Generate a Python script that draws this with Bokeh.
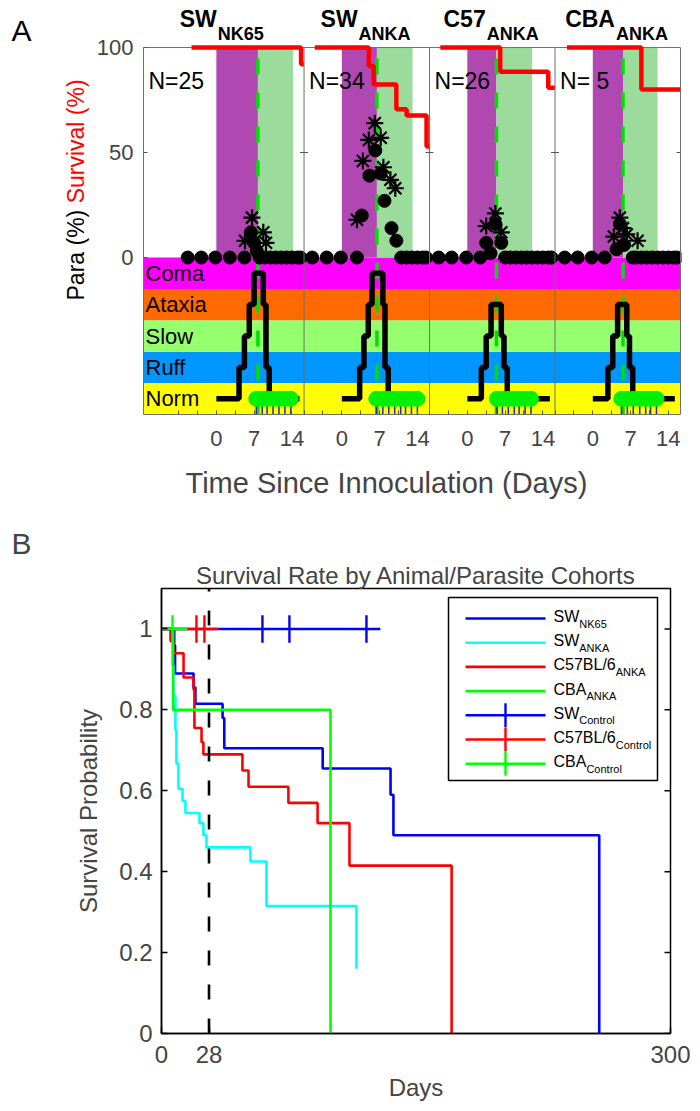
import numpy as np
from bokeh.plotting import figure
from bokeh.models import FixedTicker, Title
from bokeh.layouts import column, row
from bokeh.embed import file_html
from bokeh.resources import INLINE
from bokeh.core.properties import value

FONT = "Liberation Sans"

# ---------------- Panel A data ----------------
cohort_main = ["SW", "SW", "C57", "CBA"]
cohort_sub = ["NK65", "ANKA", "ANKA", "ANKA"]
cohort_n = ["N=25", "N=34", "N=26", "N= 5"]
score_names = ["Norm", "Ruff", "Slow", "Ataxia", "Coma"]
score_colors = ["#FFFF00", "#0096FF", "#96FF6E", "#FF6A00", "#FF00FF"]

onset_day = [7.7, 6.5, 5.4, 5.6]
window_end = [14.2, 13.1, 12.0, 12.0]

surv_t = [[-4.6, 15.7, 16.2],
          [-5.0, 5.0, 5.9, 10.1, 12.0, 15.7, 16.2],
          [-5.0, 6.1, 15.0, 16.2],
          [-4.8, 9.0, 16.2]]
surv_v = [[100, 92, 92],
          [100, 91.2, 82.4, 70.6, 67.6, 52.9, 52.9],
          [100, 88.5, 80.8, 80.8],
          [100, 80, 80]]

circ_t = [[-5.3, -2.8, -0.2, 2.5, 5.2, 6.4, 7.0, 7.5, 8.0, 9.0, 10.0, 11.0, 12.0, 13.0, 14.0, 15.0, 15.6],
          [-5.5, -2.8, -0.2, 2.8, 3.7, 5.1, 6.2, 7.2, 7.9, 9.2, 10.1, 11.0, 12.0, 13.0, 14.0, 15.0, 15.6],
          [-5.3, -2.9, -0.2, 2.4, 3.5, 4.3, 5.2, 6.3, 7.0, 8.0, 9.0, 10.0, 11.0, 12.0, 13.0, 14.0, 15.0, 15.6],
          [-5.2, -2.8, -0.2, 2.2, 4.4, 5.0, 5.8, 7.4, 8.0, 9.0, 10.0, 11.0, 12.0, 13.0, 14.0, 15.0, 15.6]]
circ_v = [[0, 0, 0, 0, 0, 12, 7, 3, 0, 0, 0, 0, 0, 0, 0, 0, 0],
          [0, 0, 0, 0, 20, 39, 51, 40, 27, 14, 8, 0, 0, 0, 0, 0, 0],
          [0, 0, 0, 0, 7, 2, 16, 7, 0, 0, 0, 0, 0, 0, 0, 0, 0, 0],
          [0, 0, 0, 0, 4, 16, 6, 0, 0, 0, 0, 0, 0, 0, 0, 0, 0]]
star_t = [[5.3, 6.6, 8.7, 9.2],
          [2.8, 3.9, 5.0, 6.1, 7.2, 7.7, 9.0, 9.9],
          [3.5, 5.2, 6.3],
          [3.9, 5.0, 5.6, 6.3, 8.3]]
star_v = [[8, 19, 12, 7],
          [18, 46, 56, 64, 57, 43, 37, 33],
          [15, 21, 12],
          [10, 19, 14, 11, 8]]

score_t = [[0, 4.2, 5.2, 6.1, 7.0, 8.7, 9.2, 9.8, 15.4],
           [0, 3.3, 4.1, 4.9, 5.6, 7.6, 8.0, 8.6, 15.4],
           [0, 2.6, 3.5, 4.4, 6.3, 6.8, 7.4, 15.3],
           [0, 2.8, 3.7, 4.6, 6.3, 6.8, 7.4, 15.2]]
score_v = [[0, 1, 2, 3, 4, 3, 1, 0, 0],
           [0, 1, 2, 3, 4, 3, 1, 0, 0],
           [0, 1, 2, 3, 2, 1, 0, 0],
           [0, 1, 2, 3, 2, 1, 0, 0]]

recov_t = [[7.4, 8.5, 9.4, 10.5, 11.6, 12.7, 13.8],
           [6.4, 7.6, 8.7, 9.8, 10.9, 11.8, 12.9, 14.0],
           [5.5, 6.5, 7.6, 8.7, 9.6, 10.7, 11.8],
           [5.3, 6.4, 7.5, 8.7, 9.8, 10.7, 11.8]]

day_major = [0, 7, 14]
day_major_labels = ["0", "7", "14"]
day_minor = [-7, -3.5, 3.5, 10.5]
para_ticks = [0, 50, 100]

# ---------------- Panel B data ----------------
km_colors = ["#0000FF", "#00FFFF", "#FF0000", "#00FF00"]
km_t = [[0, 7.5, 8.0, 18.9, 20.0, 36.0, 37.0, 95.0, 135.0, 136.7, 258.0],
        [0, 6.5, 7.0, 8.2, 8.8, 10.0, 12.4, 14.1, 22.4, 24.7, 26.5, 52.4, 61.9, 114.9],
        [0, 5.3, 7.0, 13.0, 18.9, 19.4, 23.6, 24.7, 47.7, 51.3, 74.8, 92.0, 110.8, 171.0],
        [0, 6.8, 99.6]]
km_s = [[1, 0.96, 0.89, 0.855, 0.815, 0.78, 0.705, 0.655, 0.59, 0.49, 0],
        [1, 0.91, 0.835, 0.75, 0.667, 0.605, 0.575, 0.545, 0.52, 0.49, 0.46, 0.425, 0.315, 0.16],
        [1, 0.97, 0.94, 0.88, 0.85, 0.755, 0.72, 0.69, 0.65, 0.61, 0.57, 0.52, 0.415, 0],
        [1, 0.8, 0]]
ctrl_colors = ["#0000FF", "#FF0000", "#00FF00"]
ctrl_end = [129.0, 33.6, 15.3]
ctrl_censor = [[59.5, 75.4, 120.8], [20.6, 25.3], [6.5]]
cutoff_day = 28
b_xticks = [0, 28, 300]
b_yticks = [0, 0.2, 0.4, 0.6, 0.8, 1]
b_ylabels = ["0", "0.2", "0.4", "0.6", "0.8", "1"]
legend_main = ["SW", "SW", "C57BL/6", "CBA", "SW", "C57BL/6", "CBA"]
legend_sub = ["NK65", "ANKA", "ANKA", "ANKA", "Control", "Control", "Control"]
legend_colors = ["#0000FF", "#00FFFF", "#FF0000", "#00FF00", "#0000FF", "#FF0000", "#00FF00"]
legend_censor = [False, False, False, False, True, True, True]

# ---------------- text width helper (Arial metrics) ----------------
_REG = {' ': 278, '(': 333, ')': 333, '%': 889, '/': 278, '=': 584,
        'A': 667, 'B': 667, 'C': 722, 'D': 722, 'K': 667, 'L': 556, 'N': 722, 'P': 667,
        'R': 722, 'S': 667, 'T': 611, 'W': 944,
        'a': 556, 'b': 556, 'c': 500, 'e': 556, 'h': 556, 'i': 222, 'l': 222, 'm': 833,
        'n': 556, 'o': 556, 'r': 333, 's': 500, 't': 278, 'u': 556, 'v': 500, 'y': 500}
_BOLD = {'A': 722, 'B': 722, 'C': 722, 'K': 722, 'N': 722, 'S': 667, 'W': 944, 'L': 611, '/': 278}


def tw(s, size, bold=False):
    tab = _BOLD if bold else _REG
    return sum(tab.get(c, _REG.get(c, 556)) for c in s) * size / 1000.0


def put_text(p, x, y, txt, size, color="black", bold=False, x_offset=0, angle=0, align="left"):
    p.text(x=[x], y=[y], text=[txt], x_offset=x_offset, angle=angle,
           text_font=value(FONT), text_font_size=f"{size}px",
           text_font_style="bold" if bold else "normal", text_color=color,
           text_align=align, text_baseline="middle")


# ================= Panel A =================
STRIP_W = 90
OFF = 23.25
X0, X1 = -13.5, 16.25 + 3 * OFF
FW_A = 537
PXD = FW_A / (X1 - X0)
X1R = X1 + 1.0 / PXD
BH = 14.95
Y0 = -5 * BH
PXY = 2.1
FB_A = 414           # page y of behaviour-area bottom
YTOP = Y0 + FB_A / PXY
FL_A = 143           # page x of panel left


def ax(px):
    return X0 + (px - FL_A) / PXD


def ay(py):
    return Y0 + (FB_A - py) / PXY


def lev(v):
    return Y0 + BH * (np.asarray(v, dtype=float) + 0.5)


pA = figure(frame_width=FW_A + 1, frame_height=FB_A, x_range=(X0, X1R), y_range=(Y0, YTOP),
            output_backend="svg", toolbar_location=None,
            min_border_left=FL_A - STRIP_W, min_border_right=700 - FL_A - FW_A - 1,
            min_border_top=0, min_border_bottom=100)
pA.grid.visible = False
pA.outline_line_color = None
pA.background_fill_color = "white"
pA.border_fill_color = "white"

pA.quad(left=X0, right=X1, bottom=[Y0 + BH * i for i in range(5)],
        top=[Y0 + BH * (i + 1) for i in range(5)], fill_color=score_colors, line_color=None)

for k in range(4):
    o = k * OFF
    pA.quad(left=[0 + o], right=[onset_day[k] + o], bottom=[0], top=[100],
            fill_color="#B148B2", line_color=None)
    pA.quad(left=[onset_day[k] + o], right=[window_end[k] + o], bottom=[0], top=[100],
            fill_color="#9BDB9C", line_color=None)
    pA.segment(x0=[onset_day[k] + o], y0=[Y0], x1=[onset_day[k] + o], y1=[100],
               line_color="#00E000", line_width=3.5, line_dash="16 18")

for k in range(4):
    o = k * OFF
    pA.scatter(np.array(circ_t[k]) + o, circ_v[k], marker="circle", size=13,
               fill_color="black", line_color="black")
    pA.scatter(np.array(star_t[k]) + o, star_v[k], marker="asterisk", size=17,
               line_color="black", line_width=2.2)
    pA.step(np.array(score_t[k]) + o, lev(score_v[k]), mode="after",
            line_color="black", line_width=5.5)
    rt = np.array(recov_t[k]) + o
    pA.segment(x0=rt, y0=Y0, x1=rt, y1=lev(0), line_color="#2828D0", line_width=1.5)
    pA.scatter(rt, lev(np.zeros(len(rt))), marker="circle", size=15,
               fill_color="#00F000", line_color="#00F000")

# panel frames and the small ticks at 50 % on every panel edge
tick_len = 4.0 / PXD
for k in range(3):
    xs = 16.25 + k * OFF
    pA.segment(x0=[xs], y0=[Y0], x1=[xs], y1=[100], line_color="#707070", line_width=1)
    pA.segment(x0=[xs - tick_len, xs], y0=[50, 50], x1=[xs, xs + tick_len], y1=[50, 50],
               line_color="#555555", line_width=1)
pA.segment(x0=[X0, X1], y0=[100, Y0], x1=[X1, X1], y1=[100, 100], line_color="#707070", line_width=1)
pA.segment(x0=[X1 - tick_len], y0=[50], x1=[X1], y1=[50], line_color="#555555", line_width=1)

for k in range(4):
    o = k * OFF
    pA.step(np.array(surv_t[k]) + o, surv_v[k], mode="after", line_color="#FF0000", line_width=4.5)

pA.text(x=[ax(145)] * 5, y=list(lev([0, 1, 2, 3, 4])), text=score_names,
        text_font=value(FONT), text_font_size="22px", text_baseline="middle", text_color="black")

majors, minors, over = [], [], {}
for k in range(4):
    o = k * OFF
    for d, lab in zip(day_major, day_major_labels):
        majors.append(d + o)
        over[d + o] = lab
    minors += [d + o for d in day_minor]
pA.xaxis.ticker = FixedTicker(ticks=majors, minor_ticks=minors)
pA.xaxis.major_label_overrides = over
pA.xaxis.bounds = (X0, X1)
pA.xaxis.major_label_text_font = FONT
pA.xaxis.major_label_text_font_size = "22px"
pA.xaxis.major_label_standoff = 16
pA.xaxis.major_tick_in = 4
pA.xaxis.major_tick_out = 0
pA.xaxis.minor_tick_in = 4
pA.xaxis.minor_tick_out = 0
pA.xaxis.axis_line_color = "#707070"
pA.xaxis.major_tick_line_color = "#555555"
pA.xaxis.minor_tick_line_color = "#555555"
# x-axis title, placed left of the frame centre as in the original figure
pA.add_layout(Title(text="Time Since Innoculation (Days)", align="left", offset=185 - FL_A,
                    text_font=FONT, text_font_size="29px", text_font_style="normal",
                    standoff=32), "below")

pA.yaxis.ticker = FixedTicker(ticks=para_ticks)
pA.yaxis.bounds = (Y0, 100)
pA.yaxis.major_label_text_font = FONT
pA.yaxis.major_label_text_font_size = "22px"
pA.yaxis.major_label_standoff = 10
pA.yaxis.major_tick_in = 4
pA.yaxis.major_tick_out = 0
pA.yaxis.minor_tick_line_color = None
pA.yaxis.axis_line_color = "#707070"
pA.yaxis.major_tick_line_color = "#555555"

title_center_day = [1.0, 4.4, 4.4, 4.4]
for k in range(4):
    cx = title_center_day[k] + k * OFF
    wm = tw(cohort_main[k], 23, True)
    ws = tw(cohort_sub[k], 18, True)
    tot = wm + ws + 1
    put_text(pA, cx, ay(18.5), cohort_main[k], 23, bold=True, x_offset=-tot / 2)
    put_text(pA, cx, ay(33.5), cohort_sub[k], 18, bold=True, x_offset=-tot / 2 + wm + 1)
    left = X0 if k == 0 else -7 + k * OFF
    put_text(pA, left, ay(80), cohort_n[k], 23, x_offset=5)

# left strip holding the panel letter and the two-coloured axis title
sA = figure(frame_width=STRIP_W, frame_height=FB_A, x_range=(0, STRIP_W), y_range=(0, FB_A),
            output_backend="svg", toolbar_location=None, x_axis_location=None, y_axis_location=None,
            min_border_left=0, min_border_right=0, min_border_top=0, min_border_bottom=100)
sA.grid.visible = False
sA.outline_line_color = None
sA.border_fill_color = "white"
put_text(sA, 11, FB_A - 30, "A", 30)
ylab_bottom = 300
put_text(sA, 75, FB_A - ylab_bottom, "Para (%)", 23, angle=np.pi / 2)
put_text(sA, 75, FB_A - (ylab_bottom - tw("Para (%) ", 23)), "Survival (%)", 23,
         color="#FF0000", angle=np.pi / 2)

# ================= Panel B =================
FW_B, FH_B = 509, 445
FL_B, FT_B = 161, 588
BX0, BX1, BY0, BY1 = 0, 300, 0, 1.1
B_TOP = 514


def bx(px):
    return BX0 + (px - FL_B) * (BX1 - BX0) / FW_B


def by(py):
    return BY0 + (FT_B + FH_B - py) * (BY1 - BY0) / FH_B


pB = figure(frame_width=FW_B, frame_height=FH_B, x_range=(BX0, BX1), y_range=(BY0, BY1),
            output_backend="svg", toolbar_location=None, title=None,
            min_border_left=FL_B, min_border_right=700 - FL_B - FW_B,
            min_border_top=FT_B - B_TOP, min_border_bottom=70)
pB.grid.visible = False
pB.outline_line_color = "black"
pB.outline_line_width = 1.5
pB.background_fill_color = "white"
pB.border_fill_color = "white"

for t, s, c in zip(km_t, km_s, km_colors):
    pB.step(t, s, mode="after", line_color=c, line_width=2.6)

for c, e, cens in zip(ctrl_colors, ctrl_end, ctrl_censor):
    pB.line([0, e], [1, 1], line_color=c, line_width=2.6)
    pB.segment(x0=cens, y0=0.966, x1=cens, y1=1.034, line_color=c, line_width=2.4)

pB.segment(x0=[cutoff_day], y0=[BY0], x1=[cutoff_day], y1=[BY1], line_color="black",
           line_width=2.6, line_dash="15 19")

# inward ticks on the right edge of the box
rt_len = 6 * (BX1 - BX0) / FW_B
pB.segment(x0=[BX1 - rt_len] * len(b_yticks), y0=b_yticks, x1=[BX1] * len(b_yticks), y1=b_yticks,
           line_color="black", line_width=1.5)

pB.add_layout(Title(text="Survival Rate by Animal/Parasite Cohorts", align="center",
                    text_font=FONT, text_font_size="24px", text_font_style="normal",
                    standoff=0), "above")
pB.add_layout(Title(text="B", align="left", offset=-(FL_B - 11), text_font=FONT,
                    text_font_size="30px", text_font_style="normal", standoff=0), "above")

pB.xaxis.ticker = FixedTicker(ticks=b_xticks)
pB.xaxis.axis_label = "Days"
pB.yaxis.ticker = FixedTicker(ticks=b_yticks)
pB.yaxis.major_label_overrides = {v: l for v, l in zip(b_yticks, b_ylabels)}
pB.yaxis.axis_label = "Survival Probability"
for axis in (pB.xaxis, pB.yaxis):
    axis.axis_label_text_font = FONT
    axis.axis_label_text_font_style = "normal"
    axis.axis_label_text_font_size = "24px"
    axis.major_label_text_font = FONT
    axis.major_label_text_font_size = "24px"
    axis.major_tick_in = 6
    axis.major_tick_out = 0
    axis.minor_tick_line_color = None
    axis.axis_line_color = "black"
    axis.axis_line_width = 1.5
    axis.major_tick_line_width = 1.5
pB.xaxis.major_label_standoff = 12
pB.xaxis.axis_label_standoff = 8
pB.yaxis.major_label_standoff = 9
pB.yaxis.axis_label_standoff = 14

# legend (drawn by hand to allow subscripts)
pB.quad(left=[bx(448)], right=[bx(657)], top=[by(597)], bottom=[by(780)],
        fill_color="white", line_color="black", line_width=1.5)
leg_y0, leg_dy = 618, 24.2
for i in range(len(legend_main)):
    py = leg_y0 + i * leg_dy
    pB.line([bx(465), bx(545)], [by(py), by(py)], line_color=legend_colors[i], line_width=2.6)
    if legend_censor[i]:
        pB.segment(x0=[bx(505)], y0=[by(py + 12)], x1=[bx(505)], y1=[by(py - 12)],
                   line_color=legend_colors[i], line_width=2.4)
    wm = tw(legend_main[i], 16)
    put_text(pB, bx(553), by(py - 2), legend_main[i], 16)
    put_text(pB, bx(553), by(py + 5), legend_sub[i], 11, x_offset=wm)

layout = column(row(sA, pA), pB)
open("out.html", "w").write(file_html(layout, INLINE))
